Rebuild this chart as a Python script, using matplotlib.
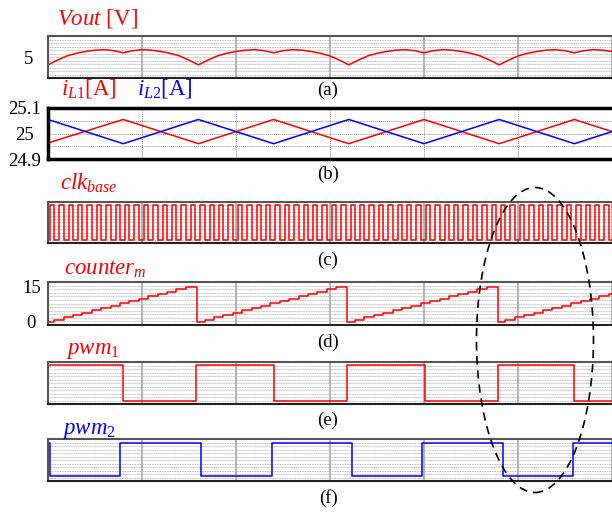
import numpy as np
import matplotlib
matplotlib.use('Agg')
import matplotlib.pyplot as plt
from matplotlib.patches import Ellipse

plt.rcParams['font.family'] = ['Liberation Serif', 'DejaVu Serif']
plt.rcParams['mathtext.fontset'] = 'custom'
plt.rcParams['mathtext.rm'] = 'Liberation Serif'
plt.rcParams['mathtext.it'] = 'Liberation Serif:italic'

# time axis in grid divisions
# (a) output voltage
vout_t = np.round(np.arange(0, 6.05, 0.1), 2)
vout_v = [4.85, 4.94, 5.02, 5.07, 5.105, 5.13, 5.14, 5.12, 5.08, 5.12, 5.14, 5.13, 5.105, 5.07, 5.02, 4.94,
          4.85, 4.94, 5.02, 5.07, 5.105, 5.13, 5.14, 5.12, 5.08, 5.12, 5.14, 5.13, 5.105, 5.07, 5.02, 4.94,
          4.85, 4.94, 5.02, 5.07, 5.105, 5.13, 5.14, 5.12, 5.08, 5.12, 5.14, 5.13, 5.105, 5.07, 5.02, 4.94,
          4.85, 4.94, 5.02, 5.07, 5.105, 5.13, 5.14, 5.12, 5.08, 5.12, 5.14, 5.13, 5.105]

# (b) inductor currents
il_t = [0, 0.8, 1.6, 2.4, 3.2, 4.0, 4.8, 5.6, 6.4]
il1_v = [24.963, 25.055, 24.96, 25.055, 24.96, 25.055, 24.96, 25.055, 24.96]
il2_v = [25.055, 24.96, 25.055, 24.96, 25.055, 24.96, 25.055, 24.96, 25.055]

# (c) base clock rising edges, high width
clk_rise = [0.02, 0.12, 0.22, 0.32, 0.42, 0.52, 0.62, 0.72, 0.82, 0.92,
            1.02, 1.12, 1.22, 1.32, 1.42, 1.52, 1.62, 1.72, 1.82, 1.92,
            2.02, 2.12, 2.22, 2.32, 2.42, 2.52, 2.62, 2.72, 2.82, 2.92,
            3.02, 3.12, 3.22, 3.32, 3.42, 3.52, 3.62, 3.72, 3.82, 3.92,
            4.02, 4.12, 4.22, 4.32, 4.42, 4.52, 4.62, 4.72, 4.82, 4.92,
            5.02, 5.12, 5.22, 5.32, 5.42, 5.52, 5.62, 5.72, 5.82, 5.92, 6.02]
clk_high = 0.045

# (d) counter
cnt_t = [0.0, 0.065, 0.165, 0.265, 0.365, 0.465, 0.565, 0.665, 0.765, 0.865, 0.965, 1.065, 1.165, 1.265, 1.365, 1.465,
         1.585, 1.665, 1.765, 1.865, 1.965, 2.065, 2.165, 2.265, 2.365, 2.465, 2.565, 2.665, 2.765, 2.865, 2.965, 3.065,
         3.18, 3.265, 3.365, 3.465, 3.565, 3.665, 3.765, 3.865, 3.965, 4.065, 4.165, 4.265, 4.365, 4.465, 4.565, 4.665,
         4.79, 4.865, 4.965, 5.065, 5.165, 5.265, 5.365, 5.465, 5.565, 5.665, 5.765, 5.865, 5.965, 6.1]
cnt_v = [0, 1, 2, 3, 4, 5, 6, 7, 8, 9, 10, 11, 12, 13, 14, 15,
         0, 1, 2, 3, 4, 5, 6, 7, 8, 9, 10, 11, 12, 13, 14, 15,
         0, 1, 2, 3, 4, 5, 6, 7, 8, 9, 10, 11, 12, 13, 14, 15,
         0, 1, 2, 3, 4, 5, 6, 7, 8, 9, 10, 11, 12, 12]

# (e), (f) pwm signals
pwm1_t = [0, 0.80, 1.575, 2.40, 3.18, 4.01, 4.79, 5.60, 6.1]
pwm1_v = [1, 0, 1, 0, 1, 0, 1, 0, 0]
pwm2_t = [0, 0.02, 0.77, 1.63, 2.38, 3.23, 3.98, 4.84, 5.585, 6.1]
pwm2_v = [1, 0, 1, 0, 1, 0, 1, 0, 1, 1]

RED = '#ff0000'
BLUE = '#0000ff'
W, H = 612, 512
X0, X1 = 48, 616
DIV = 94.0


def add_panel(top, bottom, ylim):
    ax = fig.add_axes([X0 / W, 1 - bottom / H, (X1 - X0) / W, (bottom - top) / H])
    ax.set_xlim(0, (X1 - X0) / DIV)
    ax.set_ylim(*ylim)
    ax.set_xticks([])
    ax.set_yticks([])
    ax.tick_params(length=0, labelsize=13.5)
    for s in ax.spines.values():
        s.set_color('#555555')
        s.set_linewidth(1.5)
    ax.spines['bottom'].set_color('#222222')
    return ax


def dense_grid(ax):
    y0, y1 = ax.get_ylim()
    for i, f in enumerate(np.linspace(0, 1, 13)[1:-1]):
        y = y0 + f * (y1 - y0)
        if i % 2 == 0:
            ax.axhline(y, color='#a5a5a5', lw=0.6, ls=(0, (1, 1)), zorder=0)
        else:
            ax.axhline(y, color='#dadada', lw=0.9, zorder=0)
    for x in range(1, 7):
        ax.axvline(x, color='#a8a8a8', lw=1.2, zorder=0)


fig = plt.figure(figsize=(W / 100, H / 100), dpi=100)

# (a)
ax = add_panel(36, 78, (4.6, 5.4))
dense_grid(ax)
ax.plot(vout_t, vout_v, color=RED, lw=1.1)
ax.set_yticks([5])
ax.set_yticklabels(['5'], ha='center')
ax.tick_params(pad=14)

# (b)
ax = add_panel(108, 159, (24.9, 25.1))
for s in ax.spines.values():
    s.set_color('black')
    s.set_linewidth(2.5)
for y in [24.95, 25.0, 25.05]:
    ax.axhline(y, color='#909090', lw=0.7, ls=(0, (1, 1)), zorder=0)
for x in range(1, 7):
    ax.axvline(x, color='#909090', lw=0.7, ls=(0, (1, 1)), zorder=0)
ax.plot(il_t, il1_v, color=RED, lw=1.1)
ax.plot(il_t, il2_v, color=BLUE, lw=1.1)
ax.set_yticks([24.9, 25.0, 25.1])
ax.set_yticklabels(['24.9', '25', '25.1'], ha='center')
ax.tick_params(pad=17)

# (c)
ax = add_panel(202, 243, (-0.09, 1.09))
dense_grid(ax)
clk_t = [0.0]
clk_v = [0]
for r in clk_rise:
    clk_t += [r, r + clk_high]
    clk_v += [1, 0]
ax.step(clk_t, clk_v, where='post', color=RED, lw=1.1)

# (d)
ax = add_panel(282, 325, (-1.29, 17.14))
dense_grid(ax)
ax.step(cnt_t, cnt_v, where='post', color=RED, lw=1.1)
ax.set_yticks([0, 15])
ax.set_yticklabels(['0', '15'], ha='center')
ax.tick_params(pad=12)

# (e)
ax = add_panel(362, 404, (-0.08, 1.08))
dense_grid(ax)
ax.step(pwm1_t, pwm1_v, where='post', color=RED, lw=1.1)

# (f)
ax = add_panel(439, 481, (-0.15, 1.12))
dense_grid(ax)
ax.step(pwm2_t, pwm2_v, where='post', color=BLUE, lw=1.1)

# signal names
def ftext(x, y, s, color, size=16.5):
    fig.text(x / W, 1 - y / H, s, color=color, fontsize=size, va='baseline', ha='left')

ftext(57, 24, r'$Vout$ [V]', RED)
ftext(61, 95, r'$i_{\mathit{L1}}$[A]', RED)
ftext(137, 95, r'$i_{\mathit{L2}}$[A]', BLUE)
ftext(60, 190, r'$clk_{base}$', RED)
ftext(64, 275, r'$counter_{m}$', RED)
ftext(66, 354, r'$pwm_{\mathit{1}}$', RED)
ftext(62, 434, r'$pwm_{\mathit{2}}$', BLUE)

# panel labels
for lab, yc in [('(a)', 90), ('(b)', 174), ('(c)', 260), ('(d)', 342), ('(e)', 420), ('(f)', 498)]:
    fig.text(328 / W, 1 - yc / H, lab, fontsize=13.5, ha='center', va='center')

# dashed ellipse
ell = Ellipse((535 / W, 1 - 340 / H), 117 / W, 305 / H, transform=fig.transFigure,
              fill=False, edgecolor='black', lw=1.2, ls=(0, (5, 3.5)))
fig.add_artist(ell)

fig.savefig('out.png', dpi=100)
